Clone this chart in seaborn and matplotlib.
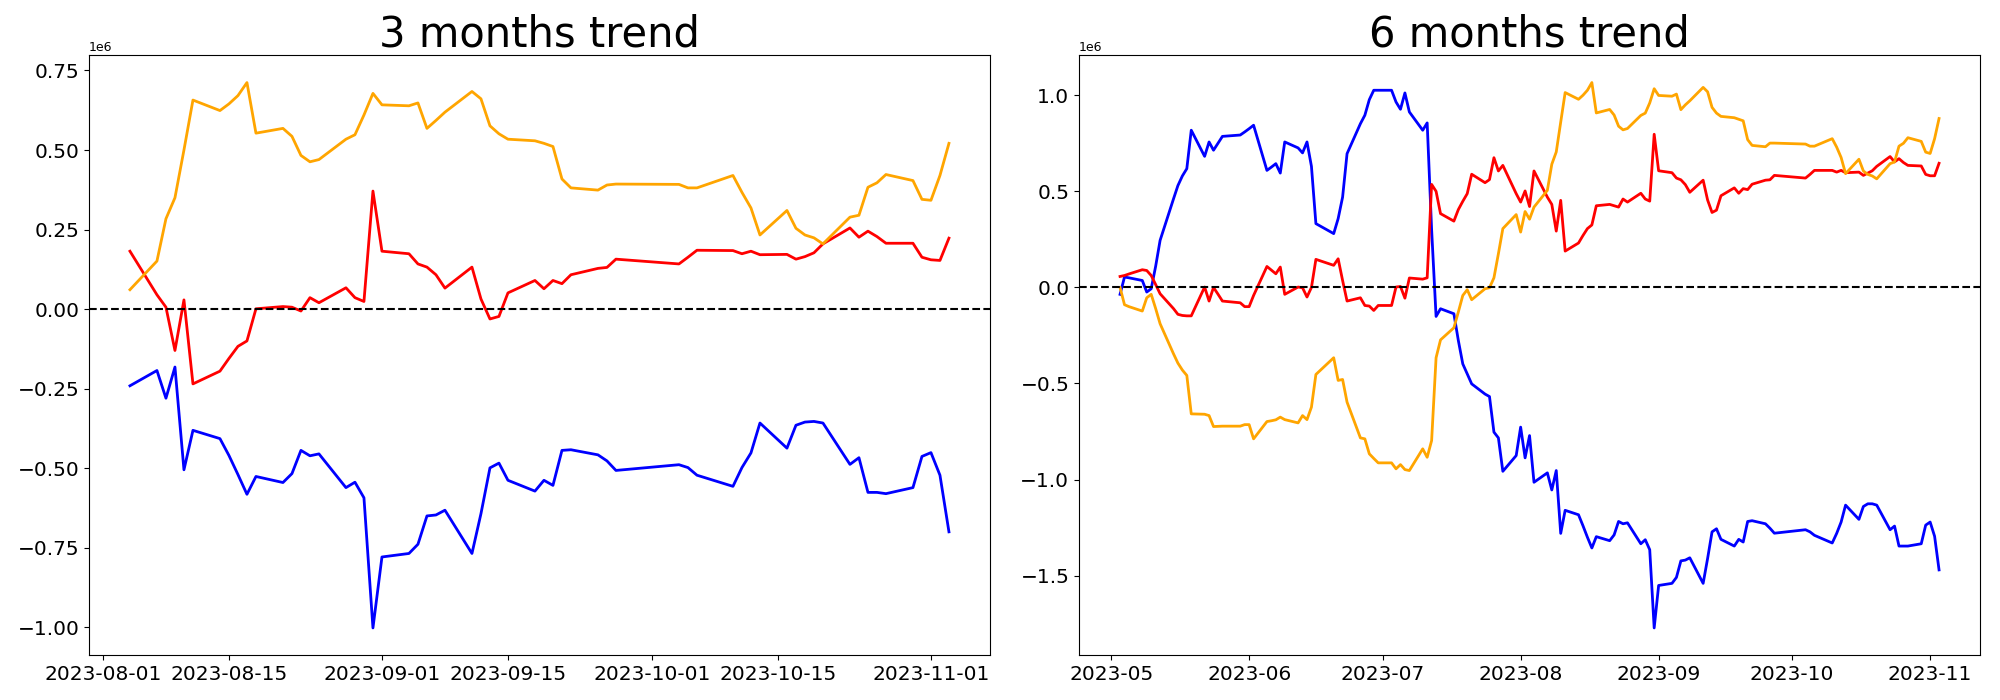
import matplotlib
matplotlib.use("Agg")
import matplotlib.pyplot as plt
import seaborn as sns
import pandas as pd

# 3 months trend (values in millions)
dates_3m = [
    "08-04", "08-07", "08-08", "08-09", "08-10", "08-11", "08-14", "08-15", "08-16", "08-17",
    "08-18", "08-21", "08-22", "08-23", "08-24", "08-25", "08-28", "08-29", "08-30", "08-31",
    "09-01", "09-04", "09-05", "09-06", "09-07", "09-08", "09-11", "09-12", "09-13", "09-14",
    "09-15", "09-18", "09-19", "09-20", "09-21", "09-22", "09-25", "09-26", "09-27", "10-04",
    "10-05", "10-06", "10-10", "10-11", "10-12", "10-13", "10-16", "10-17", "10-18", "10-19",
    "10-20", "10-23", "10-24", "10-25", "10-26", "10-27", "10-30", "10-31", "11-01", "11-02",
    "11-03",
]
blue_3m = [
    -0.241, -0.193, -0.280, -0.182, -0.505, -0.381, -0.407, -0.460, -0.520, -0.582,
    -0.526, -0.545, -0.517, -0.444, -0.461, -0.455, -0.561, -0.544, -0.593, -1.002,
    -0.779, -0.768, -0.739, -0.650, -0.647, -0.632, -0.768, -0.643, -0.499, -0.484,
    -0.538, -0.572, -0.538, -0.554, -0.444, -0.442, -0.458, -0.477, -0.507, -0.489,
    -0.498, -0.522, -0.557, -0.498, -0.452, -0.358, -0.437, -0.365, -0.355, -0.353,
    -0.358, -0.488, -0.467, -0.576, -0.576, -0.580, -0.561, -0.463, -0.451, -0.522,
    -0.700,
]
red_3m = [
    0.182, 0.045, 0.006, -0.130, 0.029, -0.235, -0.195, -0.155, -0.117, -0.100,
    0.001, 0.008, 0.006, -0.006, 0.036, 0.020, 0.067, 0.036, 0.024, 0.371,
    0.182, 0.174, 0.142, 0.132, 0.108, 0.066, 0.132, 0.032, -0.031, -0.023,
    0.051, 0.090, 0.064, 0.090, 0.080, 0.108, 0.128, 0.131, 0.157, 0.142,
    0.163, 0.185, 0.184, 0.174, 0.182, 0.171, 0.172, 0.157, 0.165, 0.177,
    0.205, 0.255, 0.226, 0.245, 0.228, 0.207, 0.207, 0.163, 0.155, 0.153,
    0.223,
]
orange_3m = [
    0.061, 0.151, 0.284, 0.350, 0.500, 0.657, 0.624, 0.645, 0.671, 0.712,
    0.553, 0.568, 0.543, 0.483, 0.463, 0.470, 0.534, 0.548, 0.610, 0.678,
    0.642, 0.639, 0.648, 0.568, 0.593, 0.619, 0.684, 0.661, 0.576, 0.551,
    0.534, 0.529, 0.521, 0.511, 0.409, 0.381, 0.374, 0.390, 0.393, 0.392,
    0.381, 0.381, 0.420, 0.367, 0.318, 0.233, 0.310, 0.254, 0.233, 0.224,
    0.205, 0.289, 0.295, 0.383, 0.397, 0.423, 0.404, 0.345, 0.342, 0.420,
    0.521,
]

# 6 months trend (values in millions)
dates_6m = [
    "05-03", "05-04", "05-05", "05-08", "05-09", "05-10", "05-11", "05-12", "05-15", "05-16",
    "05-17", "05-18", "05-19", "05-22", "05-23", "05-24", "05-25", "05-26", "05-30", "05-31",
    "06-01", "06-02", "06-05", "06-06", "06-07", "06-08", "06-09", "06-12", "06-13", "06-14",
    "06-15", "06-16", "06-20", "06-21", "06-22", "06-23", "06-26", "06-27", "06-28", "06-29",
    "06-30", "07-03", "07-04", "07-05", "07-06", "07-07", "07-10", "07-11", "07-12", "07-13",
    "07-14", "07-17", "07-18", "07-19", "07-20", "07-21", "07-24", "07-25", "07-26", "07-27",
    "07-28", "07-31", "08-01", "08-02", "08-03", "08-04", "08-07", "08-08", "08-09", "08-10",
    "08-11", "08-14", "08-15", "08-16", "08-17", "08-18", "08-21", "08-22", "08-23", "08-24",
    "08-25", "08-28", "08-29", "08-30", "08-31", "09-01", "09-04", "09-05", "09-06", "09-07",
    "09-08", "09-11", "09-12", "09-13", "09-14", "09-15", "09-18", "09-19", "09-20", "09-21",
    "09-22", "09-25", "09-26", "09-27", "10-04", "10-05", "10-06", "10-10", "10-11", "10-12",
    "10-13", "10-16", "10-17", "10-18", "10-19", "10-20", "10-23", "10-24", "10-25", "10-26",
    "10-27", "10-30", "10-31", "11-01", "11-02", "11-03",
]
blue_6m = [
    -0.036, 0.054, 0.050, 0.036, -0.024, -0.007, 0.110, 0.245, 0.460, 0.530,
    0.580, 0.618, 0.818, 0.682, 0.757, 0.714, 0.750, 0.786, 0.793, 0.809,
    0.826, 0.844, 0.609, 0.626, 0.644, 0.595, 0.757, 0.726, 0.700, 0.757,
    0.630, 0.332, 0.280, 0.358, 0.470, 0.696, 0.852, 0.896, 0.977, 1.026,
    1.026, 1.026, 0.965, 0.927, 1.012, 0.913, 0.818, 0.856, 0.300, -0.151,
    -0.111, -0.137, -0.276, -0.398, -0.450, -0.502, -0.555, -0.568, -0.753, -0.783,
    -0.957, -0.875, -0.727, -0.887, -0.771, -1.014, -0.965, -1.054, -0.953, -1.280,
    -1.160, -1.183, -1.240, -1.300, -1.356, -1.297, -1.318, -1.288, -1.218, -1.230,
    -1.225, -1.334, -1.313, -1.365, -1.772, -1.551, -1.540, -1.509, -1.423, -1.419,
    -1.407, -1.540, -1.411, -1.272, -1.256, -1.311, -1.346, -1.311, -1.325, -1.218,
    -1.214, -1.230, -1.253, -1.279, -1.261, -1.272, -1.290, -1.330, -1.280, -1.221,
    -1.133, -1.207, -1.140, -1.126, -1.126, -1.133, -1.261, -1.242, -1.346, -1.346,
    -1.346, -1.334, -1.237, -1.221, -1.295, -1.470,
]
red_6m = [
    0.057, 0.062, 0.070, 0.092, 0.088, 0.062, 0.015, -0.033, -0.110, -0.140,
    -0.146, -0.148, -0.148, 0.002, -0.071, 0.000, -0.035, -0.071, -0.080, -0.100,
    -0.100, -0.042, 0.109, 0.090, 0.071, 0.106, -0.036, 0.002, -0.002, -0.050,
    0.000, 0.146, 0.115, 0.149, 0.036, -0.071, -0.054, -0.094, -0.097, -0.120,
    -0.094, -0.094, 0.002, 0.005, -0.056, 0.049, 0.043, 0.050, 0.536, 0.500,
    0.384, 0.345, 0.405, 0.448, 0.488, 0.589, 0.545, 0.561, 0.675, 0.606,
    0.635, 0.488, 0.444, 0.502, 0.421, 0.606, 0.470, 0.432, 0.293, 0.453,
    0.189, 0.231, 0.270, 0.306, 0.325, 0.425, 0.432, 0.425, 0.418, 0.460,
    0.444, 0.490, 0.460, 0.449, 0.797, 0.607, 0.597, 0.569, 0.560, 0.535,
    0.495, 0.558, 0.455, 0.390, 0.402, 0.477, 0.518, 0.490, 0.514, 0.509,
    0.537, 0.558, 0.560, 0.583, 0.569, 0.588, 0.609, 0.609, 0.600, 0.609,
    0.597, 0.600, 0.583, 0.595, 0.607, 0.630, 0.681, 0.653, 0.670, 0.650,
    0.635, 0.632, 0.588, 0.581, 0.581, 0.646,
]
orange_6m = [
    0.000, -0.090, -0.100, -0.123, -0.054, -0.036, -0.110, -0.189, -0.345, -0.394,
    -0.430, -0.458, -0.658, -0.660, -0.667, -0.724, -0.723, -0.722, -0.722, -0.714,
    -0.714, -0.788, -0.698, -0.694, -0.689, -0.675, -0.688, -0.705, -0.667, -0.688,
    -0.623, -0.453, -0.366, -0.484, -0.479, -0.597, -0.783, -0.788, -0.866, -0.890,
    -0.913, -0.913, -0.944, -0.922, -0.948, -0.953, -0.840, -0.884, -0.797, -0.366,
    -0.273, -0.210, -0.128, -0.042, -0.012, -0.064, -0.007, -0.002, 0.050, 0.175,
    0.306, 0.379, 0.288, 0.395, 0.355, 0.418, 0.505, 0.641, 0.705, 0.860,
    1.014, 0.979, 1.000, 1.026, 1.066, 0.908, 0.926, 0.897, 0.839, 0.820,
    0.827, 0.895, 0.907, 0.960, 1.034, 0.999, 0.995, 1.006, 0.925, 0.950,
    0.971, 1.041, 1.018, 0.937, 0.907, 0.890, 0.883, 0.875, 0.867, 0.769,
    0.739, 0.732, 0.751, 0.751, 0.746, 0.735, 0.735, 0.774, 0.730, 0.676,
    0.592, 0.667, 0.606, 0.588, 0.580, 0.565, 0.644, 0.653, 0.735, 0.750,
    0.779, 0.760, 0.704, 0.697, 0.774, 0.879,
]

palette = {"blue": "blue", "red": "red", "orange": "orange"}


def make_frame(dates, series):
    frames = []
    for name, vals in series.items():
        frames.append(pd.DataFrame({
            "date": pd.to_datetime(["2023-" + d for d in dates]),
            "value": [v * 1e6 for v in vals],
            "series": name,
        }))
    return pd.concat(frames, ignore_index=True)


def draw_panel(ax, data, title):
    sns.lineplot(data=data, x="date", y="value", hue="series",
                 hue_order=["blue", "red", "orange"], palette=palette,
                 linewidth=2.0, estimator=None, legend=False, ax=ax)
    ax.axhline(0, color="black", linestyle="--", linewidth=1.5)
    ax.set_title(title, fontsize=30)
    ax.set_xlabel("")
    ax.set_ylabel("")
    ax.tick_params(labelsize=14.5)
    ax.yaxis.get_offset_text().set_fontsize(9)


df_3m = make_frame(dates_3m, {"blue": blue_3m, "red": red_3m, "orange": orange_3m})
df_6m = make_frame(dates_6m, {"blue": blue_6m, "red": red_6m, "orange": orange_6m})

fig, axes = plt.subplots(1, 2, figsize=(20, 7), dpi=100)
draw_panel(axes[0], df_3m, "3 months trend")
draw_panel(axes[1], df_6m, "6 months trend")

fig.subplots_adjust(left=0.0445, right=0.99, top=0.921, bottom=0.064, wspace=0.099)
fig.savefig("out.png", dpi=100)
